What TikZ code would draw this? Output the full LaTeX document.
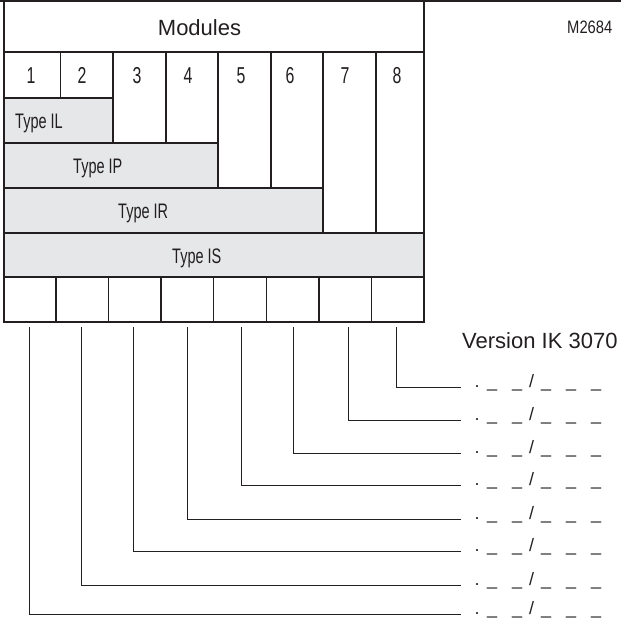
\documentclass[tikz,border=0pt]{standalone}
\usepackage{fontspec}
\setmainfont{Liberation Sans}
\newfontfamily\condf[FakeStretch=0.69]{Liberation Sans}
\newfontfamily\codef[FakeStretch=0.82]{Liberation Sans}
\definecolor{ink}{HTML}{231F20}
\definecolor{shade}{HTML}{E6E7E8}
\begin{document}
\begin{tikzpicture}[x=1pt,y=-1pt,
  cell/.style={draw=ink, line width=1.4pt, fill=white, anchor=north west, inner sep=0pt, outer sep=0pt},
  graycell/.style={cell, fill=shade},
  numtxt/.style={anchor=base, inner sep=0pt, text=ink, font=\condf\fontsize{23}{25}\selectfont},
  typetxt/.style={anchor=base west, inner sep=0pt, text=ink, font=\condf\fontsize{21}{23}\selectfont},
  slottxt/.style={anchor=base west, inner sep=0pt, text=ink, font=\fontsize{18}{20}\selectfont},
  wire/.style={draw=ink, line width=0.9pt}
]
\useasboundingbox (0,0) rectangle (621,629);

% Modules header
\node[cell, minimum width=420.5pt, minimum height=51pt] (mod) at (3.5,1) {};
% number columns
\node[cell, minimum width=57.2pt, minimum height=46pt] (k1) at (3.5,52) {};
\node[cell, minimum width=52.3pt, minimum height=46pt] (k2) at (60.7,52) {};
\node[cell, minimum width=53pt, minimum height=91pt] (k3) at (113,52) {};
\node[cell, minimum width=52pt, minimum height=91pt] (k4) at (166,52) {};
\node[cell, minimum width=53pt, minimum height=136pt] (k5) at (218,52) {};
\node[cell, minimum width=52pt, minimum height=136pt] (k6) at (271,52) {};
\node[cell, minimum width=53pt, minimum height=181pt] (k7) at (323,52) {};
\node[cell, minimum width=48pt, minimum height=181pt] (k8) at (376,52) {};
% type bars
\node[graycell, minimum width=109.5pt, minimum height=45pt] (il) at (3.5,98) {};
\node[graycell, minimum width=214.5pt, minimum height=45pt] (ip) at (3.5,143) {};
\node[graycell, minimum width=319.5pt, minimum height=45pt] (ir) at (3.5,188) {};
\node[graycell, minimum width=420.5pt, minimum height=44pt] (is) at (3.5,233) {};
% bottom slots
\foreach \i in {1,...,8}{
  \node[cell, minimum width=52.56pt, minimum height=45pt] (b\i) at ({3.5+(\i-1)*52.56},277) {};
}
% outer frame
\draw[ink, line width=2.5pt] (0,1) -- (621,1);
\draw[ink, line width=2pt] (3.5,1) rectangle (424,322);

% texts
\node[anchor=base, inner sep=0pt, text=ink, font=\fontsize{22}{24}\selectfont] (modt) at (199.5,35) {Modules};
\node[anchor=base west, inner sep=0pt, text=ink, font=\codef\fontsize{18}{20}\selectfont] (code) at (567,33) {M2684};
\node[numtxt] (n1) at (31,83) {1};
\node[numtxt] (n2) at (82,83) {2};
\node[numtxt] (n3) at (137,83) {3};
\node[numtxt] (n4) at (188,83) {4};
\node[numtxt] (n5) at (241,83) {5};
\node[numtxt] (n6) at (290,83) {6};
\node[numtxt] (n7) at (345,83) {7};
\node[numtxt] (n8) at (397,83) {8};
\node[typetxt] (til) at (15,128) {Type IL};
\node[typetxt] (tip) at (73,173) {Type IP};
\node[typetxt] (tir) at (118,218) {Type IR};
\node[typetxt] (tis) at (172,263) {Type IS};
\node[anchor=base west, inner sep=0pt, text=ink, font=\fontsize{22}{24}\selectfont] (ver) at (462,348) {Version IK 3070};

% version slots and connectors
\newcommand{\slotlabel}{.\hspace{7.5pt}\_\hspace{15pt}\_\hspace{7pt}/\hspace{7pt}\_\hspace{15pt}\_\hspace{15pt}\_}
\foreach \i/\yy/\dx in {1/614/0, 2/585/-1, 3/551/-1, 4/519/-0.5, 5/485/1, 6/453/0.5, 7/420/3.5, 8/387/-1}{
  \coordinate (c\i) at (461,\yy);
  \node[slottxt] (s\i) at (474.5,\yy) {\slotlabel};
  \draw[wire] ([xshift=\dx pt, yshift=-5pt]b\i.south) |- (c\i);
}
\end{tikzpicture}
\end{document}
